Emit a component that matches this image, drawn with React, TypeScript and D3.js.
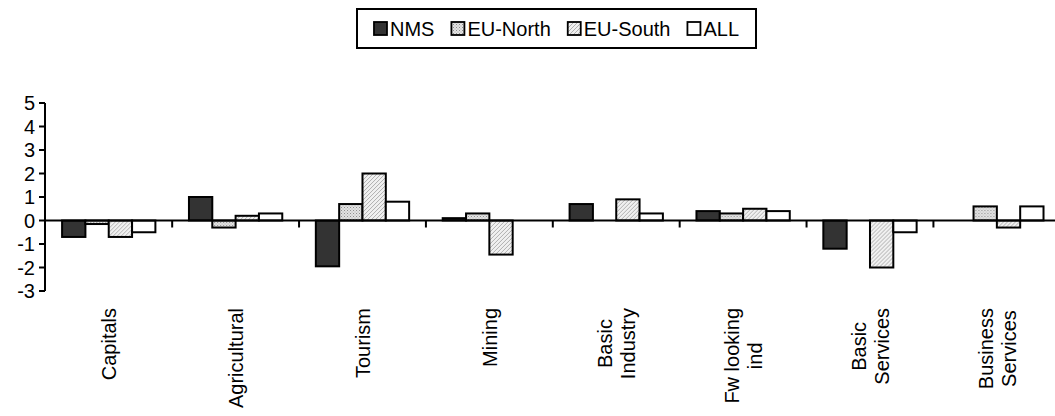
import React from "react";
import * as d3 from "d3";

const categories: string[][] = [
  ["Capitals"],
  ["Agricultural"],
  ["Tourism"],
  ["Mining"],
  ["Basic", "Industry"],
  ["Fw looking", "ind"],
  ["Basic", "Services"],
  ["Business", "Services"],
];
const seriesNames = ["NMS", "EU-North", "EU-South", "ALL"];
const nms = [-0.7, 1.0, -1.95, 0.1, 0.7, 0.4, -1.2, 0];
const euNorth = [-0.15, -0.3, 0.7, 0.3, 0, 0.3, 0, 0.6];
const euSouth = [-0.7, 0.2, 2.0, -1.45, 0.9, 0.5, -2.0, -0.3];
const all = [-0.5, 0.3, 0.8, 0, 0.3, 0.4, -0.5, 0.6];
const yTicks = [5, 4, 3, 2, 1, 0, -1, -2, -3];

const seriesValues = [nms, euNorth, euSouth, all];
const fills = ["#333333", "url(#patNorth)", "url(#patSouth)", "#ffffff"];

const W = 1055;
const H = 416;
const FONT = "Arial, 'Liberation Sans', sans-serif";
const FS = 20;

let ctx: CanvasRenderingContext2D | null = null;
function textWidth(s: string, size = FS): number {
  if (!ctx) ctx = document.createElement("canvas").getContext("2d");
  if (!ctx) return s.length * size * 0.55;
  ctx.font = `${size}px Arial, 'Liberation Sans', sans-serif`;
  return ctx.measureText(s).width;
}

export default function App() {
  const x = d3
    .scaleBand<number>()
    .domain(d3.range(categories.length))
    .range([45.3, 1060.3])
    .paddingInner(0)
    .paddingOuter(0);
  const bw = x.bandwidth();
  const groupW = 93.3;
  const x1 = d3
    .scaleBand<number>()
    .domain(d3.range(seriesNames.length))
    .range([(bw - groupW) / 2, (bw + groupW) / 2]);
  const y = d3.scaleLinear().domain([-3, 5]).range([291, 103]);
  const y0 = y(0);

  // legend layout
  const lgLeft = 357;
  const lgRight = 756;
  const lgTop = 9;
  const lgBottom = 48;
  const sw = 13;
  const swGap = 3;
  const widths = seriesNames.map((s) => textWidth(s));
  const contentW = widths.reduce((a, b) => a + b, 0) + seriesNames.length * (sw + swGap);
  const gap = (lgRight - lgLeft - contentW) / (seriesNames.length + 1);
  let cursor = lgLeft + gap;
  const legendItems = seriesNames.map((s, i) => {
    const item = { name: s, x: cursor, fill: fills[i] };
    cursor += sw + swGap + widths[i] + gap;
    return item;
  });
  const lgMid = (lgTop + lgBottom) / 2;

  return (
    <svg
      width={W}
      height={H}
      style={{ position: "absolute", left: 0, top: 0, background: "#fff" }}
      fontFamily={FONT}
    >
      <defs>
        <pattern id="patNorth" width="3" height="3" patternUnits="userSpaceOnUse">
          <rect width="3" height="3" fill="#e4e4e4" />
          <rect x="0" y="0" width="1" height="1" fill="#8c8c8c" />
          <rect x="1.5" y="1.5" width="1" height="1" fill="#a8a8a8" />
        </pattern>
        <pattern id="patSouth" width="4" height="4" patternUnits="userSpaceOnUse">
          <rect width="4" height="4" fill="#f0f0f0" />
          <path d="M-1,1 L1,-1 M0,4 L4,0 M3,5 L5,3" stroke="#a0a0a0" strokeWidth="0.8" />
        </pattern>
      </defs>

      {/* legend */}
      <rect
        x={lgLeft}
        y={lgTop}
        width={lgRight - lgLeft}
        height={lgBottom - lgTop}
        fill="#fff"
        stroke="#000"
        strokeWidth={2}
      />
      {legendItems.map((it) => (
        <g key={it.name}>
          <rect
            x={it.x}
            y={lgMid - sw / 2}
            width={sw}
            height={sw}
            fill={it.fill}
            stroke="#000"
            strokeWidth={1.8}
          />
          <text x={it.x + sw + swGap} y={lgMid} dy="0.36em" fontSize={FS} fill="#000">
            {it.name}
          </text>
        </g>
      ))}

      {/* bars */}
      {categories.map((_, ci) => (
        <g key={ci} transform={`translate(${x(ci)},0)`}>
          {seriesValues.map((vals, si) => {
            const v = vals[ci];
            if (v === 0) return null;
            const top = Math.min(y(v), y0);
            const h = Math.abs(y(v) - y0);
            return (
              <rect
                key={si}
                x={x1(si)}
                y={top}
                width={x1.bandwidth()}
                height={h}
                fill={fills[si]}
                stroke="#000"
                strokeWidth={2}
              />
            );
          })}
        </g>
      ))}

      {/* y axis */}
      <line x1={45} x2={45} y1={y(5)} y2={y(-3)} stroke="#000" strokeWidth={2} />
      {yTicks.map((t) => (
        <g key={t}>
          <line x1={39} x2={45} y1={y(t)} y2={y(t)} stroke="#000" strokeWidth={2} />
          <text x={35} y={y(t)} dy="0.36em" textAnchor="end" fontSize={FS} fill="#000">
            {t}
          </text>
        </g>
      ))}

      {/* x axis */}
      <line x1={45} x2={1060} y1={y0} y2={y0} stroke="#000" strokeWidth={2} />
      {d3.range(1, categories.length + 1).map((i) => {
        const xx = (x(i - 1) as number) + bw;
        return <line key={i} x1={xx} x2={xx} y1={y0} y2={y0 + 7} stroke="#000" strokeWidth={2} />;
      })}

      {/* category labels */}
      {categories.map((lines, ci) => {
        const cx = (x(ci) as number) + bw / 2;
        const maxW = Math.max(...lines.map((l) => textWidth(l)));
        const topY = 308;
        const cy = topY + maxW / 2;
        const lh = 23;
        return (
          <g key={ci}>
            {lines.map((l, li) => {
              const lx = cx + (li - (lines.length - 1) / 2) * lh;
              return (
                <text
                  key={li}
                  transform={`translate(${lx},${cy}) rotate(-90)`}
                  textAnchor="middle"
                  dy="0.36em"
                  fontSize={FS}
                  fill="#000"
                >
                  {l}
                </text>
              );
            })}
          </g>
        );
      })}
    </svg>
  );
}
